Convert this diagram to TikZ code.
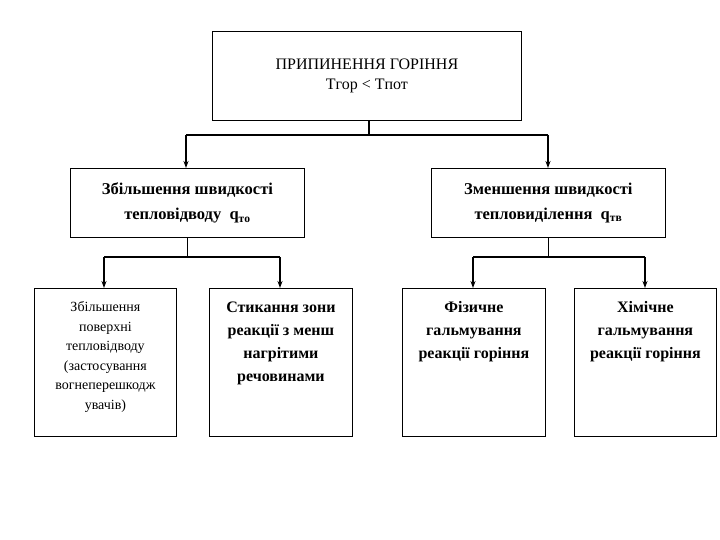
\documentclass[tikz,border=0pt]{standalone}
\usepackage{fontspec}
\setmainfont{Liberation Serif}
\usetikzlibrary{arrows.meta}
\begin{document}
\begin{tikzpicture}[x=1pt,y=-1pt,
  box/.style={draw,line width=0.8pt,align=center,anchor=north west,inner sep=2pt},
  arr/.style={line width=1.2pt,-{Stealth[length=7pt,width=5pt]}},
  ln/.style={line width=1.2pt}]
\useasboundingbox (0,0) rectangle (720,540);
\node[box,minimum width=309pt,minimum height=89pt,font=\fontsize{16}{20}\selectfont] (top) at (212,31) {ПРИПИНЕННЯ ГОРІННЯ\\Tгор < Tпот};
\node[box,minimum width=234pt,minimum height=69pt,font=\bfseries\fontsize{16.5}{25}\selectfont] (a) at (70,168) {Збільшення швидкості\\тепловідводу~ q\textsubscript{то}};
\node[box,minimum width=234pt,minimum height=69pt,font=\bfseries\fontsize{16.5}{25}\selectfont] (b) at (431,168) {Зменшення швидкості\\тепловиділення~ q\textsubscript{тв}};
\node[box,minimum width=142pt,minimum height=148pt] (c) at (34,288) {};
\node[box,minimum width=143pt,minimum height=148pt] (d) at (209,288) {};
\node[box,minimum width=143pt,minimum height=148pt] (e) at (402,288) {};
\node[box,minimum width=142pt,minimum height=148pt] (f) at (574,288) {};
\node[anchor=north,align=center,font=\fontsize{14}{19.5}\selectfont] at ([yshift=-10pt]c.north) {Збільшення\\поверхні\\тепловідводу\\(застосування\\вогнеперешкодж\\увачів)};
\node[anchor=north,align=center,font=\bfseries\fontsize{16}{23}\selectfont] at ([yshift=-10pt]d.north) {Стикання зони\\реакції з менш\\нагрітими\\речовинами};
\node[anchor=north,align=center,font=\bfseries\fontsize{16}{23}\selectfont] at ([yshift=-10pt]e.north) {Фізичне\\гальмування\\реакції горіння};
\node[anchor=north,align=center,font=\bfseries\fontsize{16}{23}\selectfont] at ([yshift=-10pt]f.north) {Хімічне\\гальмування\\реакції горіння};
\coordinate (j1) at (369,135);
\draw[ln] (top.south -| j1) -- (j1);
\draw[ln] (186,135) -- (548,135);
\draw[arr] (186,135) -- (186,168);
\draw[arr] (548,135) -- (548,168);
\draw[ln] (a.south) -- (a.south |- 0,257);
\draw[ln] (104,257) -- (280,257);
\draw[arr] (104,257) -- (104,288);
\draw[arr] (280,257) -- (280,288);
\draw[ln] (b.south) -- (b.south |- 0,257);
\draw[ln] (473,257) -- (645,257);
\draw[arr] (473,257) -- (473,288);
\draw[arr] (645,257) -- (645,288);
\end{tikzpicture}
\end{document}
